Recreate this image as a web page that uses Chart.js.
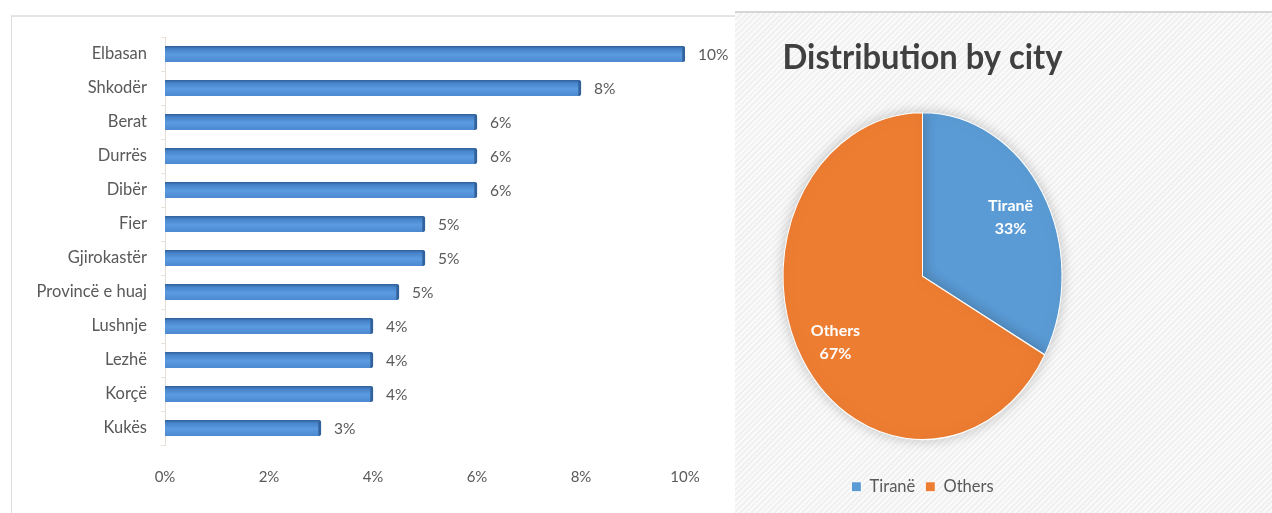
<!DOCTYPE html>
<html>
<head>
<meta charset="utf-8">
<script src="https://cdn.jsdelivr.net/npm/chart.js@4"></script>
<style>
  html, body { margin:0; padding:0; background:#fff; width:1272px; height:513px; overflow:hidden; }
  #leftPanel { position:absolute; left:11px; top:15px; width:724px; height:498px; border-left:1px solid #dcdcdc; border-top:2px solid #e4e4e4; background:#fff; }
  #rightPanel { position:absolute; left:735px; top:11px; width:537px; height:502px; border-top:2px solid #d6d6d6;
    background: repeating-linear-gradient(135deg, #f1f1f1 0px, #f1f1f1 2px, #fafafa 2px, #fafafa 4px); }
  #barWrap { position:absolute; left:0; top:0; width:735px; height:513px; }
  #pieWrap { position:absolute; left:735px; top:0; width:375px; height:513px; }
</style>
</head>
<body>
<div id="leftPanel"></div>
<div id="rightPanel"></div>
<div id="barWrap"><canvas id="bar" width="735" height="513"></canvas></div>
<div id="pieWrap"><canvas id="pie" width="375" height="513"></canvas></div>
<script>
// ---- Data ----
const cities = ['Elbasan','Shkodër','Berat','Durrës','Dibër','Fier','Gjirokastër','Provincë e huaj','Lushnje','Lezhë','Korçë','Kukës'];
const cityShares = [10, 8, 6, 6, 6, 5, 5, 4.5, 4, 4, 4, 3];
const xTickValues = [0, 2, 4, 6, 8, 10];
const pieLabels = ['Tiranë', 'Others'];
const pieValues = [33, 67];
const pieColors = ['#5b9bd5', '#ed7d31'];
const pieTitle = 'Distribution by city';

const FONT = 'Lato, "Open Sans", sans-serif';
const GREY = '#595959';

// ---- Bar chart ----
const barLabelPlugin = {
  id: 'barLabels',
  afterDatasetsDraw(chart) {
    const ctx = chart.ctx;
    const meta = chart.getDatasetMeta(0);
    ctx.save();
    ctx.font = '15.5px ' + FONT;
    ctx.fillStyle = GREY;
    ctx.textAlign = 'left';
    ctx.textBaseline = 'middle';
    meta.data.forEach((el, i) => {
      ctx.fillText(Math.round(cityShares[i]) + '%', el.x + 13, el.y + 1);
    });
    ctx.restore();
  }
};

new Chart(document.getElementById('bar'), {
  type: 'bar',
  data: {
    labels: cities,
    datasets: [{
      data: cityShares,
      barThickness: 16,
      backgroundColor: (c) => {
        const sy = c.chart.scales && c.chart.scales.y;
        if (!sy || c.dataIndex === undefined) return '#4f8bd0';
        const py = sy.getPixelForValue(c.dataIndex);
        if (!isFinite(py)) return '#4f8bd0';
        const g = c.chart.ctx.createLinearGradient(0, py - 8, 0, py + 8);
        g.addColorStop(0, '#2f5f98');
        g.addColorStop(0.18, '#4682c8');
        g.addColorStop(0.55, '#5b9be0');
        g.addColorStop(1, '#4c89d0');
        return g;
      },
      borderColor: '#31629c',
      borderWidth: { top: 0, right: 3, bottom: 0, left: 0 },
      borderRadius: { topRight: 2, bottomRight: 2 },
      borderSkipped: 'start'
    }]
  },
  options: {
    indexAxis: 'y',
    responsive: false,
    animation: false,
    layout: { padding: { top: 37, right: 50, bottom: 0, left: 0 } },
    plugins: { legend: { display: false }, tooltip: { enabled: false } },
    scales: {
      x: {
        min: 0, max: 10,
        afterBuildTicks: (s) => { s.ticks = xTickValues.map(v => ({ value: v })); },
        afterFit: (s) => { s.height = 68; },
        grid: { display: false, drawTicks: false },
        border: { display: false },
        ticks: { callback: (v) => v + '%', color: GREY, font: { family: FONT, size: 15 }, padding: 23, maxRotation: 0 }
      },
      y: {
        afterFit: (s) => { s.width = 165; },
        grid: { display: true, drawOnChartArea: false, drawTicks: true, tickLength: 4, color: '#ebe3da', offset: true },
        border: { display: true, color: '#e6ded6', width: 1 },
        ticks: { color: GREY, font: { family: FONT, size: 16.5 }, padding: 14 }
      }
    }
  },
  plugins: [barLabelPlugin]
});

// ---- Pie chart ----
const STRETCH = 164 / 140;
const pieStretchPlugin = {
  id: 'pieStretch',
  beforeDatasetsDraw(chart) {
    const ctx = chart.ctx;
    const el = chart.getDatasetMeta(0).data[0];
    ctx.save();
    ctx.translate(el.x, el.y);
    ctx.scale(1, STRETCH);
    ctx.translate(-el.x, -el.y);
    ctx.shadowColor = 'rgba(0,0,0,0.22)';
    ctx.shadowBlur = 14;
  },
  afterDatasetsDraw(chart) {
    const ctx = chart.ctx;
    ctx.restore();
    const meta = chart.getDatasetMeta(0);
    ctx.save();
    ctx.font = 'bold 16px ' + FONT;
    ctx.fillStyle = '#ffffff';
    ctx.textAlign = 'center';
    ctx.textBaseline = 'middle';
    meta.data.forEach((el, i) => {
      const mid = (el.startAngle + el.endAngle) / 2;
      const r = el.outerRadius * 0.75;
      const x = el.x + Math.cos(mid) * r;
      const y = el.y + Math.sin(mid) * r * STRETCH;
      ctx.fillText(pieLabels[i], x + (i === 1 ? 3 : -2), y - 8);
      ctx.fillText(pieValues[i] + '%', x + (i === 1 ? 3 : -2), y + 15);
    });
    ctx.restore();
  }
};

new Chart(document.getElementById('pie'), {
  type: 'pie',
  data: {
    labels: pieLabels,
    datasets: [{ data: pieValues, backgroundColor: pieColors, borderColor: '#ffffff', borderWidth: 1 }]
  },
  options: {
    responsive: false,
    animation: false,
    layout: { padding: { top: 0, left: 47.5, right: 47.5, bottom: 8 } },
    plugins: {
      tooltip: { enabled: false },
      title: {
        display: true, text: pieTitle, color: '#404040',
        font: { family: FONT, size: 34, weight: 'bold' },
        padding: { top: 38, bottom: 5 }
      },
      legend: {
        position: 'bottom',
        labels: { color: GREY, font: { family: FONT, size: 16.5 }, boxWidth: 10, boxHeight: 10, padding: 10 }
      }
    }
  },
  plugins: [pieStretchPlugin]
});
</script>
</body>
</html>
